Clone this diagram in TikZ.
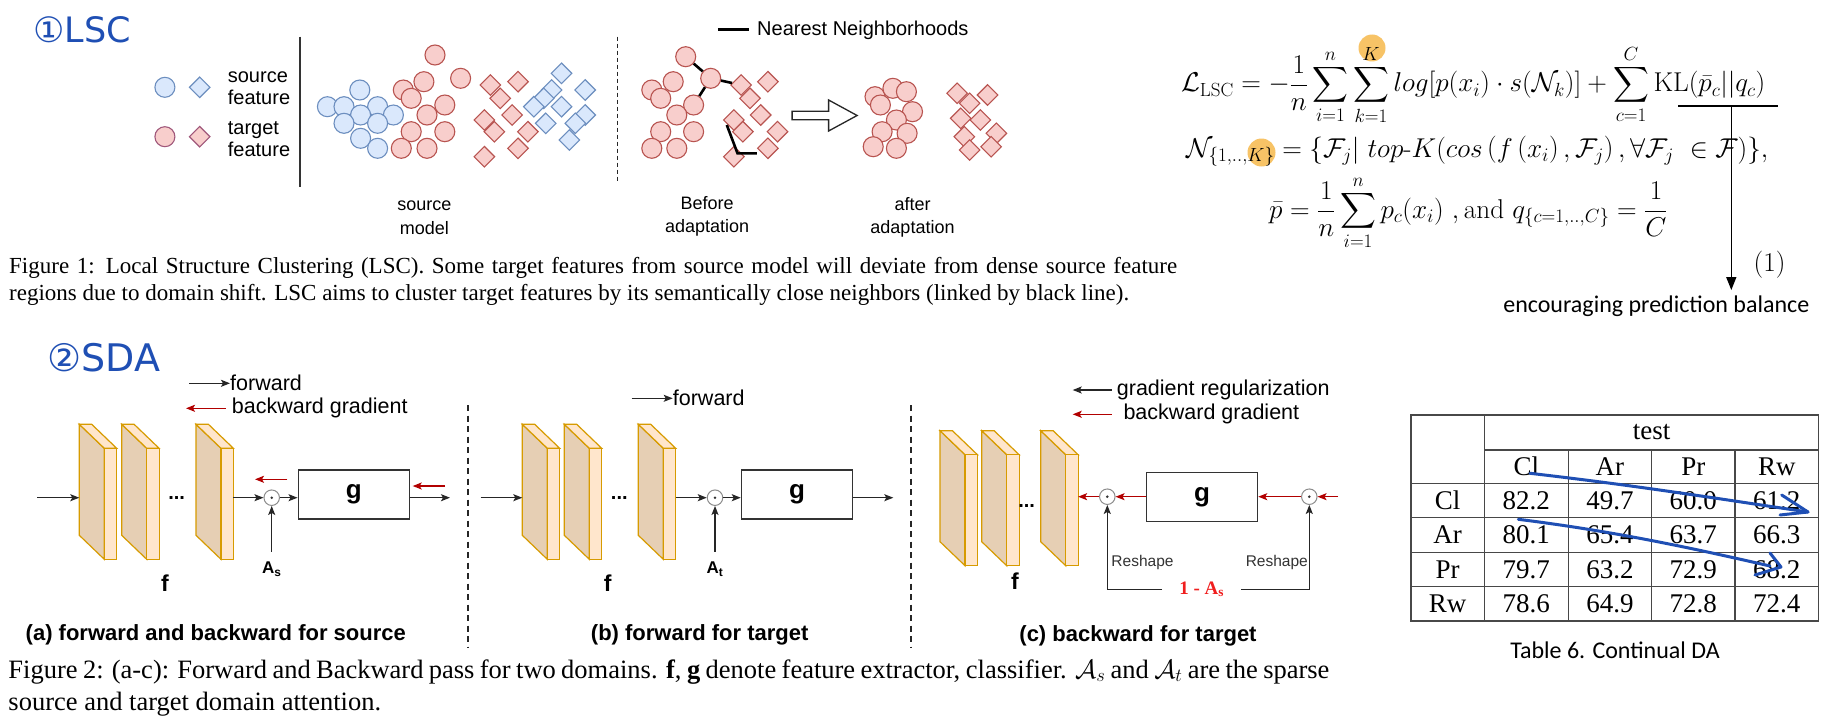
\RequirePackage{fix-cm}
\documentclass[tikz,border=0pt]{standalone}
\usepackage{amsmath}
\usepackage{fontspec}
\newfontfamily\arialf{Liberation Sans}
\newfontfamily\timesf{Liberation Serif}
\newfontfamily\calibf{Carlito}
\newfontfamily\handf{DejaVu Sans}
\usetikzlibrary{arrows.meta, positioning, shapes.geometric, calc}
\definecolor{srcfill}{HTML}{DAE8FC}
\definecolor{srcline}{HTML}{6C8EBF}
\definecolor{tgtfill}{HTML}{F8CECC}
\definecolor{tgtline}{HTML}{B85450}
\definecolor{legline}{HTML}{A0577A}
\definecolor{slabface}{HTML}{FFE6CC}
\definecolor{slabside}{HTML}{E6CFB4}
\definecolor{slabline}{HTML}{D79B00}
\definecolor{gradred}{HTML}{B20000}
\definecolor{maskred}{HTML}{F01E1E}
\definecolor{handblue}{HTML}{1F4FB4}
\definecolor{hlorange}{HTML}{F5B440}
\definecolor{tblline}{HTML}{484848}

\tikzset{
  slab/.pic={
    \filldraw[fill=slabside, draw=slabline, line width=1.2pt] (0,0) -- (25,24) -- (25,135) -- (0,111) -- cycle;
    \filldraw[fill=slabface, draw=slabline, line width=1.2pt] (0,0) -- (12.4,0) -- (37.4,24) -- (25,24) -- cycle;
    \filldraw[fill=slabface, draw=slabline, line width=1.2pt] (25,24) rectangle (37.4,135);
    \coordinate (-in) at (0,73.4);
    \coordinate (-out) at (37.4,73.4);
  }
}

\begin{document}
\begin{tikzpicture}[x=1pt, y=-1pt,
  srcc/.style={circle, fill=srcfill, draw=srcline, line width=1.1pt, minimum size=20pt, inner sep=0pt},
  tgtc/.style={circle, fill=tgtfill, draw=tgtline, line width=1.1pt, minimum size=20pt, inner sep=0pt},
  srcd/.style={diamond, fill=srcfill, draw=srcline, line width=1.1pt, minimum size=21pt, inner sep=0pt},
  tgtd/.style={diamond, fill=tgtfill, draw=tgtline, line width=1.1pt, minimum size=21pt, inner sep=0pt},
  nnline/.style={line width=2.6pt, black},
  hand/.style={font=\handf\fontsize{35}{35}\selectfont, text=handblue, inner sep=0pt},
  lsctxt/.style={font=\arialf\fontsize{20}{22}\selectfont, align=left, inner sep=0pt},
  stage/.style={font=\arialf\fontsize{18}{23.5}\selectfont, align=center, inner sep=0pt},
  capt/.style={font=\timesf\fontsize{23}{28}\selectfont, anchor=base west, inner sep=0pt},
  capb/.style={font=\timesf\fontsize{26.5}{32}\selectfont, anchor=base west, inner sep=0pt},
  eqn/.style={font=\fontsize{27.2}{31}\selectfont, anchor=base west, inner sep=0pt},
  note/.style={font=\calibf\fontsize{24}{24}\selectfont, inner sep=0pt},
  leg/.style={font=\arialf\fontsize{21.5}{22}\selectfont, anchor=west, inner sep=0pt},
  fwd/.style={-{Stealth[length=9pt, width=7pt, inset=2pt]}, line width=1.3pt, draw=black!85},
  bwd/.style={fwd, draw=gradred},
  sepline/.style={line width=2pt, dash pattern=on 6pt off 4.5pt, black!85},
  odotn/.style={circle, draw=black!45, line width=1pt, fill=white, minimum size=15.5pt, inner sep=0pt,
                path picture={\fill[black!80] (path picture bounding box.center) circle (1.4pt);}},
  gbox/.style={draw=black!80, line width=1.5pt, minimum width=111pt, minimum height=49pt, inner sep=0pt,
               font=\arialf\bfseries\fontsize{26}{26}\selectfont},
  dots/.style={font=\arialf\bfseries\fontsize{20}{20}\selectfont, anchor=base, inner sep=0pt},
  flbl/.style={font=\arialf\bfseries\fontsize{23}{23}\selectfont, inner sep=0pt},
  attn/.style={font=\arialf\bfseries\fontsize{17}{17}\selectfont, inner sep=0pt},
  subcap/.style={font=\arialf\bfseries\fontsize{22}{22}\selectfont, inner sep=0pt},
  reshp/.style={font=\arialf\fontsize{15.5}{16}\selectfont, text=black!80, inner sep=0pt},
  maskl/.style={font=\timesf\bfseries\fontsize{19}{19}\selectfont, text=maskred, inner xsep=17pt, inner ysep=0pt},
  cell/.style={font=\timesf\fontsize{27}{27}\selectfont, inner sep=0pt},
]
\fill[white] (0,0) rectangle (1831,725);
\useasboundingbox (0,0) rectangle (1831,725);

% ---------------- LSC ----------------
\node[hand] (lschead) at (82,30) {①LSC};

% legend
\node[srcc] (lgsc) at (164.9,87.3) {};
\node[srcd] (lgsd) at (199.7,87.3) {};
\node[tgtc, draw=legline] (lgtc) at (164.9,136.7) {};
\node[tgtd, draw=legline] (lgtd) at (199.7,136.7) {};
\node[lsctxt] (lgsrc) at (259,88.3) {source\\feature};
\node[lsctxt] (lgtgt) at (259,139.2) {target\\feature};
\draw[line width=2pt, black!80] (300,36.7) -- (300,186.7);

% source model
\foreach \x/\y [count=\i] in {359.8/90, 327.4/106.7, 344.0/106.7, 377.6/106.7, 360.6/115, 393.4/115,
    344.0/123.3, 377.6/123.3, 360.6/138.3, 377.6/148.3}
  \node[srcc] (sc\i) at (\x,\y) {};
\foreach \x/\y [count=\i] in {435.0/55, 460.6/78.3, 423.9/81.7, 403.3/90, 411.2/98.3, 444.8/105,
    427.0/115, 411.2/131.7, 444.8/131.7, 401.3/148.3, 427.0/148.3}
  \node[tgtc] (tc\i) at (\x,\y) {};
\foreach \x/\y [count=\i] in {490.3/85, 518.0/81.7, 500.2/98.3, 512.1/115, 484.4/120, 494.3/131.7,
    527.9/131.7, 518.0/148.3, 484.4/156.7}
  \node[tgtd] (td\i) at (\x,\y) {};
\foreach \x/\y [count=\i] in {561.5/73.3, 551.6/90, 585.2/90, 543.7/98.3, 533.8/106.7, 561.5/106.7,
    585.2/115, 545.7/123.3, 575.3/123.3, 569.4/140}
  \node[srcd] (sd\i) at (\x,\y) {};
\node[stage] (srcmodel) at (424.3,217.5) {source\\model};

\draw[line width=1.6pt, dash pattern=on 4pt off 3pt, black!85] (617.6,36.7) -- (617.6,181.7);

% before adaptation
\coordinate (nnlegA) at (717.9,29.3);
\coordinate (nnlegB) at (749.3,29.3);
\node[lsctxt, anchor=west] (nnleg) at (757,30) {Nearest Neighborhoods};
\draw[nnline] (nnlegA) -- (nnlegB);
\foreach \x/\y [count=\i] in {685.7/56.7, 710.7/78.3, 673.2/81.7, 651.8/90, 660.7/98.3, 693.6/105,
    676.8/115, 660.7/131.7, 693.6/131.7, 651.8/148.3, 676.8/148.3}
  \node[tgtc] (b\i) at (\x,\y) {};
\foreach \x/\y [count=\i] in {741.1/85, 767.9/81.7, 750/98.3, 760.7/115, 733.9/120, 742.9/131.7,
    777.5/131.7, 767.9/148.3, 733.9/156.7}
  \node[tgtd] (q\i) at (\x,\y) {};
\draw[nnline] (b1) -- (b2);
\draw[nnline] (b2) -- (q1);
\draw[nnline] (b2) -- (b6);
\coordinate (nns) at (726.8,125);
\coordinate (nnc) at (737.5,153.3);
\draw[nnline] (nns) -- (nnc) -- (nnc -| q8.west);
\node[stage] (before) at (707.1,216.2) {Before\\adaptation};

% hollow arrow
\filldraw[fill=white, draw=black!85, line width=1.3pt]
  (792.1,111.3) -- (828.6,111.3) -- (828.6,100) -- (857.1,115.5) -- (828.6,131) -- (828.6,119.7) -- (792.1,119.7) -- cycle;

% after adaptation
\foreach \x/\y [count=\i] in {875/96.7, 892.9/88.3, 906.4/91.7, 880.4/105, 912.5/111.7, 896.4/120,
    882.1/131.7, 907.1/133.3, 873.2/146.7, 896.4/148.3}
  \node[tgtc] (a\i) at (\x,\y) {};
\foreach \x/\y [count=\i] in {957.1/93.3, 969.6/103.3, 987.5/95, 960.7/118.3, 980.4/120, 964.3/136.7,
    996.4/133.3, 969.6/150, 991.1/146.7}
  \node[tgtd] (ad\i) at (\x,\y) {};
\node[stage] (after) at (912.5,217.2) {after\\adaptation};

% caption 1
\node[capt] (cap1a) at (9,273) {\makebox[1168pt][s]{Figure 1: Local Structure Clustering (LSC). Some target features from source model will deviate from dense source feature}};
\node[capt] (cap1b) at (9,300) {regions due to domain shift. LSC aims to cluster target features by its semantically close neighbors (linked by black line).};

% ---------------- loss ----------------
\fill[hlorange, opacity=0.8] (1372,48) circle (13.5);
\fill[hlorange, opacity=0.8] (1261.5,152.5) circle (14);
\node[eqn] (eq1) at (1181,92) {$\displaystyle \mathcal{L}_{\mathrm{LSC}} = -\frac{1}{n}\sum_{i=1}^{n}\sum_{k=1}^{K} log[p(x_i)\cdot s(\mathcal{N}_k)] + \sum_{c=1}^{C}\mathrm{KL}(\bar{p}_c||q_c)$};
\node[eqn] (eq2) at (1186,157) {$\displaystyle \mathcal{N}_{\{1,..,K\}} = \{\mathcal{F}_j|\ top\text{-}K(cos\left(f\left(x_i\right),\mathcal{F}_j\right),\forall\mathcal{F}_j\ \in\mathcal{F})\},$};
\node[eqn] (eq3) at (1269,218) {$\displaystyle \bar{p} = \frac{1}{n}\sum_{i=1}^{n}p_c(x_i)\ ,\text{and}\ q_{\{c=1,..,C\}} = \frac{1}{C}$};
\node[eqn, anchor=center] (eqno) at (1769.5,265) {(1)};
\coordinate (klA) at (1678,106);
\coordinate (klB) at (1777.8,106);
\coordinate (klM) at (1731.3,106);
\node[note] (bal) at (1656.3,306.7) {encouraging prediction balance};
\draw[line width=1.3pt] (klA) -- (klB);
\draw[line width=1.3pt, -{Triangle[length=13pt, width=10pt]}, shorten >=6pt] (klM) -- (klM |- bal.north);

% ---------------- SDA ----------------
\node[hand, font=\handf\fontsize{38}{38}\selectfont] (sdahead) at (104,358) {②SDA};

% (a) forward and backward for source
\coordinate (lga1s) at (189.3,383.3);
\node[leg] (lga1) at (230,383.3) {forward};
\draw[fwd] (lga1s) -- (lga1.west);
\coordinate (lga2e) at (186,408.3);
\node[leg] (lga2) at (231.7,408.3) {backward gradient};
\draw[bwd] ([xshift=-6pt]lga2.west) -- (lga2e);

\pic (fa1) at (79.3,424.3) {slab};
\pic (fa2) at (121.7,424.3) {slab};
\pic (fa3) at (196,424.3) {slab};
\node[dots] (dta) at (176.7,499) {...};
\coordinate (ina) at (37.3,497.7);
\node[odotn] (oa) at (271.7,497.7) {};
\node[gbox] (ga) at (353.8,494.7) {g};
\coordinate (outa) at (450,497.7);
\draw[fwd] (ina) -- (fa1-in);
\draw[fwd] (fa3-out) -- (oa);
\draw[fwd] (oa) -- (oa -| ga.west);
\draw[fwd] (ga.east |- oa) -- (outa);
\node[attn] (asa) at (271.7,569.3) {A\textsubscript{s}};
\draw[fwd] ([yshift=10pt]asa.north) -- (oa);
\coordinate (ra1s) at (287.3,479.3);
\coordinate (ra1e) at (255,479.3);
\draw[bwd] (ra1s) -- (ra1e);
\coordinate (ra2s) at (445,486);
\coordinate (ra2e) at (412.7,486);
\draw[bwd] (ra2s) -- (ra2e);
\node[flbl] (fla) at (165,583.3) {f};
\node[subcap] (capa) at (215.8,635) {(a) forward and backward for source};

\draw[sepline] (468.3,405) -- (468.3,646.7);

% (b) forward for target
\coordinate (lgbs) at (631.7,398.3);
\node[leg] (lgb) at (672.7,398.3) {forward};
\draw[fwd] (lgbs) -- (lgb.west);

\pic (fb1) at (522.3,424.3) {slab};
\pic (fb2) at (564.3,424.3) {slab};
\pic (fb3) at (638.3,424.3) {slab};
\node[dots] (dtb) at (619.3,499) {...};
\coordinate (inb) at (480.7,497.7);
\node[odotn] (ob) at (715,497.7) {};
\node[gbox] (gb) at (797,494.7) {g};
\coordinate (outb) at (893.3,497.7);
\draw[fwd] (inb) -- (fb1-in);
\draw[fwd] (fb3-out) -- (ob);
\draw[fwd] (ob) -- (ob -| gb.west);
\draw[fwd] (gb.east |- ob) -- (outb);
\node[attn] (atb) at (715,569.3) {A\textsubscript{t}};
\draw[fwd] ([yshift=10pt]atb.north) -- (ob);
\node[flbl] (flb) at (607.7,583.3) {f};
\node[subcap] (capb) at (699.7,635) {(b) forward for target};

\draw[sepline] (911,405) -- (911,646.7);

% (c) backward for target
\coordinate (lgc1e) at (1072.7,390);
\node[leg] (lgc1) at (1116.7,390) {gradient regularization};
\draw[fwd] ([xshift=-5pt]lgc1.west) -- (lgc1e);
\coordinate (lgc2e) at (1072.7,414.3);
\node[leg] (lgc2) at (1123.3,414.3) {backward gradient};
\draw[bwd] ([xshift=-11.6pt]lgc2.west) -- (lgc2e);

\pic (fc1) at (940,430.7) {slab};
\pic (fc2) at (981.7,430.7) {slab};
\pic (fc3) at (1040.7,430.7) {slab};
\node[dots] (dtc) at (1026.7,507) {...};
\node[odotn] (oc1) at (1107.3,496.7) {};
\node[gbox] (gc) at (1202,497.2) {g};
\node[odotn] (oc2) at (1309.3,496.7) {};
\coordinate (inc) at (1338,496.7);
\draw[bwd] (inc) -- (oc2);
\draw[bwd] (oc2) -- (oc2 -| gc.east);
\draw[bwd] (gc.west |- oc1) -- (oc1);
\draw[bwd] (oc1) -- (oc1 -| fc3-out);
\node[maskl] (mask) at (1201.7,589.3) {1 - A\textsubscript{s}};
\draw[fwd] (mask.west) -- (oc1 |- mask) -- (oc1);
\draw[fwd] (mask.east) -- (oc2 |- mask) -- (oc2);
\node[reshp] (rs1) at (1142.5,562.3) {Reshape};
\node[reshp] (rs2) at (1276.8,562.3) {Reshape};
\node[flbl] (flc) at (1015,580.7) {f};
\node[subcap] (capc) at (1138,636) {(c) backward for target};

% caption 2
\node[capb] (cap2a) at (8.3,678) {\makebox[1321pt][s]{Figure 2: (a-c): Forward and Backward pass for two domains. \textbf{f}, \textbf{g} denote feature extractor, classifier. $\mathcal{A}_s$ and $\mathcal{A}_t$ are the sparse}};
\node[capb] (cap2b) at (8.3,710) {source and target domain attention.};

% ---------------- table ----------------
\draw[tblline, line width=1.5pt] (1411,415) rectangle (1818.7,621);
\draw[tblline, line width=1.5pt] (1484.3,415) -- (1484.3,621);
\foreach \x in {1568.3, 1651.7, 1735}
  \draw[tblline, line width=1.5pt] (\x,450) -- (\x,621);
\draw[tblline, line width=1.5pt] (1484.3,450) -- (1818.7,450);
\foreach \y in {483.3, 517.7, 552.3, 586.7}
  \draw[tblline, line width=1.5pt] (1411,\y) -- (1818.7,\y);
\node[cell] (ttest) at (1651.5,432.5) {test};
\foreach \h [count=\j] in {Cl, Ar, Pr, Rw}
  \node[cell] (th\j) at ({1526.3+(\j-1)*83.5},466.7) {\h};
\foreach \lab/\va/\vb/\vc/\vd [count=\r] in {Cl/82.2/49.7/60.0/61.2, Ar/80.1/65.4/63.7/66.3,
    Pr/79.7/63.2/72.9/68.2, Rw/78.6/64.9/72.8/72.4} {
  \node[cell] (tr\r) at (1447.6,{500.5+(\r-1)*34.45}) {\lab};
  \node[cell] (tv\r a) at (1526.3,{500.5+(\r-1)*34.45}) {\va};
  \node[cell] (tv\r b) at (1610,{500.5+(\r-1)*34.45}) {\vb};
  \node[cell] (tv\r c) at (1693.3,{500.5+(\r-1)*34.45}) {\vc};
  \node[cell] (tv\r d) at (1776.8,{500.5+(\r-1)*34.45}) {\vd};
}
\node[note] (tabcap) at (1615,650) {Table 6. Continual DA};

% hand-drawn arrows
\draw[handblue, line width=3pt, line cap=round, line join=round]
  (1530,473.3) .. controls (1640,486) and (1720,499) .. (1808,512);
\draw[handblue, line width=3pt, line cap=round, line join=round]
  (1781.7,495) -- (1808,512) -- (1780,515);
\draw[handblue, line width=3pt, line cap=round, line join=round]
  (1518.3,519.3) .. controls (1620,532) and (1700,550) .. (1770,566);
\draw[handblue, line width=3pt, line cap=round, line join=round]
  (1770,553) -- (1781,567) -- (1755,575);
\end{tikzpicture}
\end{document}
